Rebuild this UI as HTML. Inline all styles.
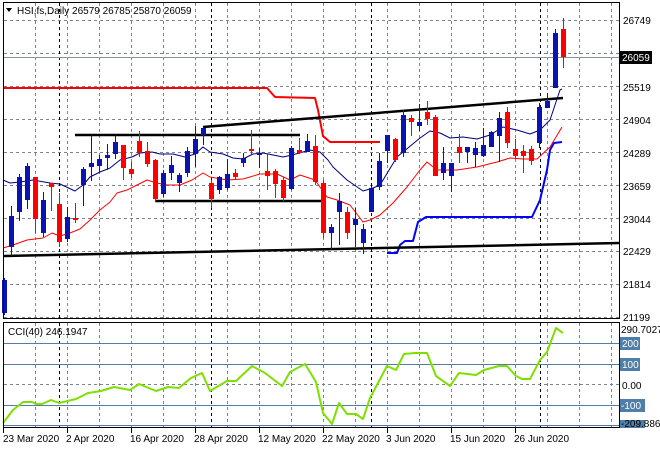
<!DOCTYPE html>
<html><head><meta charset="utf-8"><style>
html,body{margin:0;padding:0;background:#fff;}
svg{display:block;font-family:"Liberation Sans",sans-serif;}
</style></head><body>
<svg id="c" width="660" height="450" viewBox="0 0 660 450" xmlns="http://www.w3.org/2000/svg">
<rect x="0" y="0" width="660" height="450" fill="#fff"/>
<g id="grid" stroke="#7a8590" stroke-width="1" stroke-dasharray="3,3" fill="none"></g>
<g id="main"></g>
<rect x="3.5" y="2.5" width="616" height="316" fill="none" stroke="#000"/>
<rect x="3.5" y="322.5" width="616" height="105" fill="none" stroke="#000"/>
<g stroke="#000">
<line x1="3.5" x2="3.5" y1="428" y2="433"/><line x1="67.5" x2="67.5" y1="428" y2="433"/><line x1="131.5" x2="131.5" y1="428" y2="433"/><line x1="195.5" x2="195.5" y1="428" y2="433"/><line x1="259.5" x2="259.5" y1="428" y2="433"/><line x1="323.5" x2="323.5" y1="428" y2="433"/><line x1="387.5" x2="387.5" y1="428" y2="433"/><line x1="451.5" x2="451.5" y1="428" y2="433"/><line x1="515.5" x2="515.5" y1="428" y2="433"/>
</g>
<g font-size="10" fill="#000">
<text x="17" y="14">HSI,fs,Daily  26579 26785 25870 26059</text>
<polygon points="6,8 12,8 9,12" fill="#000"/>
<text x="623" y="24">26749</text>
<text x="623" y="91">25519</text>
<text x="623" y="124">24904</text>
<text x="623" y="157">24289</text>
<text x="623" y="190">23659</text>
<text x="623" y="223">23044</text>
<text x="623" y="255">22429</text>
<text x="623" y="288">21814</text>
<text x="623" y="321">21199</text>
<rect x="620" y="51" width="32" height="13" fill="#000"/>
<text x="622" y="61" fill="#fff">26059</text>
<text x="8" y="335">CCI(40) 246.1947</text>
<text x="621" y="333">290.7027</text>
<rect x="620" y="337" width="20" height="13" fill="#4f7fa8"/><text x="622" y="347" fill="#fff">200</text>
<rect x="620" y="358" width="20" height="13" fill="#4f7fa8"/><text x="622" y="368" fill="#fff">100</text>
<text x="622" y="389">0.00</text>
<rect x="620" y="399" width="25" height="13" fill="#4f7fa8"/><text x="621" y="409" fill="#fff">-100</text>
<rect x="620" y="420" width="25" height="8" fill="#4f7fa8"/>
<text x="621" y="427">-209.886</text>
<text x="3" y="442">23 Mar 2020</text>
<text x="66" y="442">2 Apr 2020</text>
<text x="130" y="442">16 Apr 2020</text>
<text x="194" y="442">28 Apr 2020</text>
<text x="258" y="442">12 May 2020</text>
<text x="322" y="442">22 May 2020</text>
<text x="386" y="442">3 Jun 2020</text>
<text x="450" y="442">15 Jun 2020</text>
<text x="514" y="442">26 Jun 2020</text>
</g>
</svg>
<script>
var NS="http://www.w3.org/2000/svg";
function el(p,t,a){var e=document.createElementNS(NS,t);for(var k in a)e.setAttribute(k,a[k]);p.appendChild(e);return e;}
var g=document.getElementById('grid'),m=document.getElementById('main');
[20,53,86,119,152,185,218,251,284,317].forEach(function(y){el(g,'line',{x1:4,x2:619,y1:y+.5,y2:y+.5});});
for(var x=35;x<619;x+=32){el(g,'line',{x1:x+.5,x2:x+.5,y1:3,y2:318});el(g,'line',{x1:x+.5,x2:x+.5,y1:323,y2:427});}
[59,211,371,540].forEach(function(x){el(g,'line',{x1:x+.5,x2:x+.5,y1:3,y2:318,stroke:'#000'});el(g,'line',{x1:x+.5,x2:x+.5,y1:323,y2:427,stroke:'#000'});});
el(g,'line',{x1:4,x2:619,y1:384.5,y2:384.5});
[343,364,405,425].forEach(function(y){el(m,'line',{x1:4,x2:619,y1:y+.5,y2:y+.5,stroke:'#4f7fa8'});});
el(m,'line',{x1:4,x2:619,y1:57.5,y2:57.5,stroke:'#8a949c'});
function pl(pts,c,w){el(m,'polyline',{points:pts.map(function(p){return p.join(',')}).join(' '),fill:'none',stroke:c,'stroke-width':w,'stroke-linejoin':'round'});}
pl([[4,88],[267,88],[275,97],[315,98],[318,110],[323,136],[330,142],[380,142]],'#f00',2);
pl([[387,253],[397,253],[400,245],[405,241],[413,241],[418,222],[426,217],[532,217],[540,200],[547,170],[550,150],[554,143],[562,142]],'#0000ff',2);
pl([[4,256],[619,243]],'#000',2.5);
pl([[203,127],[563,98]],'#000',2.5);
pl([[75,135],[300,135]],'#000',2.5);
pl([[155,201],[321,201]],'#000',2.5);
pl([[3,180],[10,183],[20,182],[33,180],[50,183],[60,184],[75,191],[83,185],[90,177],[100,172],[110,168],[120,160],[132,157],[140,153],[152,152],[160,154],[173,154],[185,157],[195,154],[203,147],[210,152],[223,154],[233,158],[243,159],[253,154],[263,153],[273,155],[283,157],[292,155],[303,152],[310,150],[320,152],[328,160],[333,167],[347,180],[363,191],[373,188],[380,185],[397,157],[420,138],[430,131],[440,133],[450,138],[463,137],[477,139],[490,135],[503,127],[517,130],[530,134],[540,130],[550,120],[560,90],[562,89]],'#000080',1);
pl([[3,248],[13,245],[27,240],[43,238],[52,233],[60,236],[70,233],[80,229],[90,220],[100,210],[110,202],[117,193],[127,190],[137,185],[147,180],[157,183],[167,185],[180,185],[192,180],[203,173],[210,177],[227,180],[243,179],[260,174],[277,174],[290,180],[300,175],[315,180],[327,197],[337,200],[350,205],[363,222],[370,220],[380,215],[393,203],[407,187],[420,170],[427,162],[437,170],[457,170],[477,167],[497,162],[510,158],[523,159],[537,159],[550,147],[562,127]],'#f00',1);
var C=[[4,'b',278,280,313,315],[11,'b',206,216,247,256],[19,'b',174,177,212,221],[27,'b',163,166,200,209],[35,'r',177,177,219,233],[43,'b',192,200,233,237],[51,'r',183,183,187,211],[59,'r',193,204,242,247],[67,'b',207,217,239,242],[75,'r',203,218,219,223],[83,'b',167,169,185,206],[91,'b',135,163,167,181],[99,'b',155,159,166,173],[107,'b',144,155,158,170],[115,'b',135,142,154,159],[123,'r',145,145,168,180],[131,'r',162,169,174,178],[139,'r',131,141,153,157],[147,'r',142,151,164,167],[155,'r',159,160,199,202],[163,'b',170,173,194,197],[171,'b',156,165,173,180],[179,'b',173,175,183,192],[187,'b',147,151,173,177],[195,'b',126,139,154,167],[203,'b',127,128,135,145],[211,'r',180,183,199,208],[219,'b',176,177,190,194],[227,'b',159,174,188,190],[235,'r',169,173,177,180],[243,'b',153,158,163,167],[251,'r',130,149,151,154],[259,'b',148,153,155,168],[267,'r',153,171,176,190],[275,'r',169,171,184,198],[283,'r',177,180,198,201],[291,'b',146,148,189,190],[299,'r',138,150,153,154],[307,'b',134,141,152,152],[315,'r',135,146,182,185],[323,'r',180,183,233,238],[331,'b',224,227,233,250],[339,'b',193,201,212,245],[347,'r',207,212,233,239],[355,'b',208,219,225,247],[363,'b',224,229,243,254],[371,'b',186,188,212,212],[379,'b',153,161,187,190],[387,'b',135,135,151,163],[395,'r',138,139,160,162],[403,'b',110,115,153,157],[411,'r',115,118,122,136],[419,'b',104,122,126,131],[427,'r',101,112,119,125],[435,'r',115,117,176,176],[443,'b',147,163,173,180],[451,'b',163,163,176,192],[459,'r',134,147,153,163],[467,'b',147,147,152,163],[475,'b',142,148,155,167],[483,'b',128,145,156,157],[491,'b',131,132,147,147],[499,'b',112,118,136,162],[507,'r',107,112,143,148],[515,'r',139,149,156,158],[523,'r',145,151,156,173],[531,'r',146,149,161,165],[539,'b',103,107,143,148],[547,'b',93,101,108,108],[555,'b',29,33,88,88],[563,'r',18,29,57,68]];
C.forEach(function(c){var col=c[1]=='b'?'#0a12b0':'#ff0000';
el(m,'rect',{x:c[0],y:c[2],width:1,height:c[5]-c[2],fill:col});
el(m,'rect',{x:c[0]-2,y:c[3],width:5,height:Math.max(2,c[4]-c[3]),fill:col});});
pl([[3,423],[13,410],[23,402],[32,402],[36,404],[42,404],[51,400],[59,403],[76,399],[88,393],[101,391],[114,387],[130,390],[139,384],[156,391],[168,387],[179,388],[191,378],[202,373],[210,391],[227,381],[236,381],[252,366],[265,373],[282,386],[290,372],[305,364],[316,382],[323,413],[332,424],[339,403],[347,414],[356,414],[363,419],[370,398],[387,366],[396,370],[404,354],[415,353],[421,353],[427,353],[436,376],[450,386],[459,373],[476,375],[484,370],[499,366],[507,366],[516,376],[522,379],[530,379],[540,360],[547,352],[556,328],[563,333]],'#7fe000',2);
</script>
</body></html>
